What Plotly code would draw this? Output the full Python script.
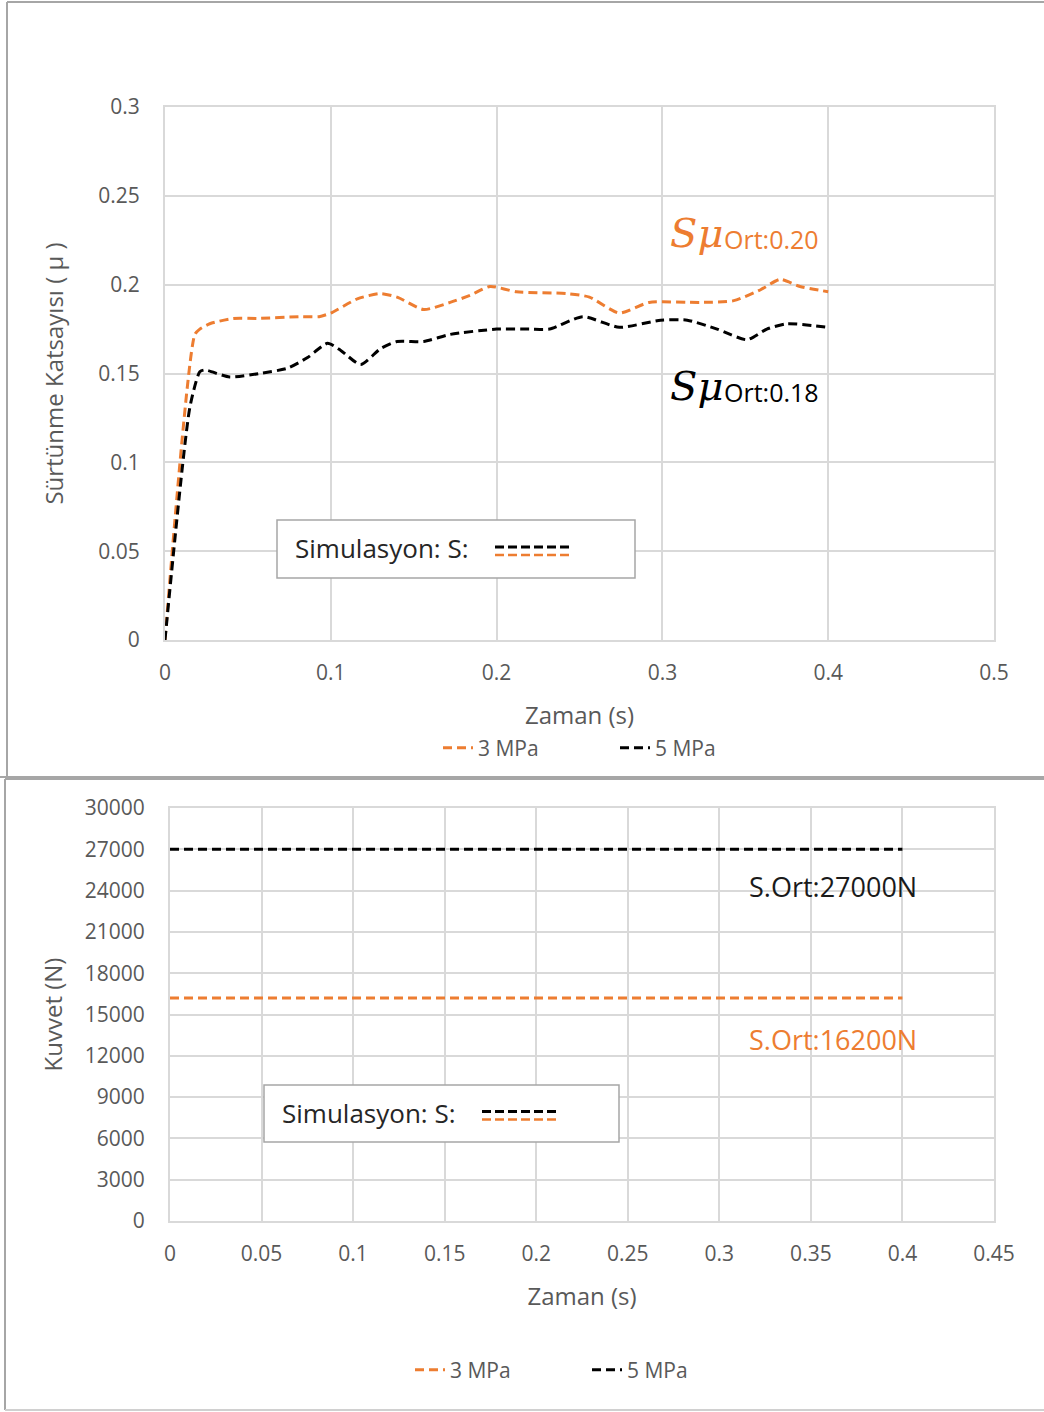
import plotly.graph_objects as go

W, H = 1044, 1412

# Friction coefficient vs time (simulation)
t_3mpa = [0, 0.018, 0.021, 0.027, 0.041, 0.057, 0.081, 0.093, 0.100, 0.116, 0.130, 0.140,
          0.156, 0.172, 0.184, 0.196, 0.212, 0.242, 0.256, 0.274, 0.292, 0.323, 0.343,
          0.359, 0.371, 0.383, 0.400]
mu_3mpa = [0, 0.172, 0.175, 0.178, 0.181, 0.181, 0.182, 0.182, 0.184, 0.192, 0.195, 0.193,
           0.186, 0.190, 0.194, 0.199, 0.196, 0.195, 0.193, 0.184, 0.190, 0.190, 0.191,
           0.197, 0.203, 0.199, 0.196]
t_5mpa = [0, 0.015, 0.021, 0.024, 0.039, 0.057, 0.074, 0.086, 0.098, 0.106, 0.118, 0.130,
          0.140, 0.156, 0.172, 0.200, 0.220, 0.232, 0.252, 0.274, 0.299, 0.315, 0.333,
          0.351, 0.363, 0.375, 0.400]
mu_5mpa = [0, 0.131, 0.151, 0.152, 0.148, 0.150, 0.153, 0.159, 0.167, 0.163, 0.155, 0.164,
           0.168, 0.168, 0.172, 0.175, 0.175, 0.175, 0.182, 0.176, 0.180, 0.180, 0.175,
           0.169, 0.175, 0.178, 0.176]

# Normal force vs time (simulation)
t_force = [0, 0.4]
force_3mpa = [16200, 16200]
force_5mpa = [27000, 27000]

series_names = ["3 MPa", "5 MPa"]
mu_avg_labels = ["0.20", "0.18"]
force_avg_labels = ["S.Ort:16200N", "S.Ort:27000N"]

ORANGE = "#ED7D31"
BLACK = "#000000"
GRID = "#D9D9D9"
TICK = "#595959"
FONT = "Open Sans"


def px(x):
    return x / W


def py(y):
    return 1 - y / H


fig = go.Figure()

dash = "9px,5px"
fig.add_trace(go.Scatter(x=t_3mpa, y=mu_3mpa, name=series_names[0], mode="lines",
                         line=dict(color=ORANGE, width=3, dash=dash, shape="spline", smoothing=0.6),
                         xaxis="x", yaxis="y", legend="legend"))
fig.add_trace(go.Scatter(x=t_5mpa, y=mu_5mpa, name=series_names[1], mode="lines",
                         line=dict(color=BLACK, width=3, dash=dash, shape="spline", smoothing=0.6),
                         xaxis="x", yaxis="y", legend="legend"))
fig.add_trace(go.Scatter(x=t_force, y=force_3mpa, name=series_names[0], mode="lines",
                         line=dict(color=ORANGE, width=3, dash=dash),
                         xaxis="x2", yaxis="y2", legend="legend2"))
fig.add_trace(go.Scatter(x=t_force, y=force_5mpa, name=series_names[1], mode="lines",
                         line=dict(color=BLACK, width=3, dash=dash),
                         xaxis="x2", yaxis="y2", legend="legend2"))

axis_common = dict(showgrid=True, gridcolor=GRID, gridwidth=2, zeroline=False,
                   showline=True, linecolor=GRID, linewidth=2, mirror=True,
                   automargin=False, ticks="",
                   tickfont=dict(family=FONT, size=21, color=TICK),
                   title_font=dict(family=FONT, size=24, color=TICK))

legend_common = dict(orientation="h", xanchor="left", yanchor="middle",
                     entrywidth=132, entrywidthmode="pixels",
                     font=dict(family=FONT, size=21, color=TICK), bgcolor="rgba(0,0,0,0)")

fig.update_layout(
    width=W, height=H,
    margin=dict(l=0, r=0, t=0, b=0, autoexpand=False),
    paper_bgcolor="white", plot_bgcolor="white",
    xaxis=dict(domain=[px(165), px(994)], anchor="y", range=[0, 0.5], dtick=0.1,
               ticklabelstandoff=13, title=dict(text="Zaman (s)", standoff=22), **axis_common),
    yaxis=dict(domain=[py(640), py(107)], anchor="x", range=[0, 0.3], dtick=0.05,
               ticklabelstandoff=19, title=dict(text="Sürtünme Katsayısı ( μ )", standoff=28),
               **axis_common),
    xaxis2=dict(domain=[px(170), px(994)], anchor="y2", range=[0, 0.45], dtick=0.05,
                ticklabelstandoff=13, title=dict(text="Zaman (s)", standoff=22), **axis_common),
    yaxis2=dict(domain=[py(1221), py(808)], anchor="x2", range=[0, 30000], dtick=3000,
                tickformat="d", ticklabelstandoff=19, title=dict(text="Kuvvet (N)", standoff=15),
                **axis_common),
    legend=dict(legend_common, x=px(438), y=py(748)),
    legend2=dict(legend_common, x=px(410), y=py(1370)),
    showlegend=True,
)

shapes = []
# chart frames
frame = dict(type="line", xref="paper", yref="paper", line=dict(color="#A6A6A6", width=2))
shapes.append(dict(frame, x0=px(7), x1=px(7), y0=py(2), y1=py(777)))
shapes.append(dict(frame, x0=px(7), x1=1, y0=py(2), y1=py(2)))
shapes.append(dict(frame, x0=px(0), x1=1, y0=py(777), y1=py(777)))
shapes.append(dict(frame, x0=px(5), x1=px(5), y0=py(779), y1=py(1410)))
shapes.append(dict(frame, x0=px(5), x1=1, y0=py(779), y1=py(779)))
shapes.append(dict(frame, x0=px(5), x1=1, y0=py(1410), y1=py(1410), line=dict(color="#D0D0D0", width=2)))

annotations = []


def sim_box(x0, y0, x1, y1):
    shapes.append(dict(type="rect", xref="paper", yref="paper", x0=px(x0), x1=px(x1),
                       y0=py(y1), y1=py(y0), line=dict(color="#A6A6A6", width=1.5),
                       fillcolor="white", layer="above"))
    ym = (y0 + y1) / 2
    annotations.append(dict(xref="paper", yref="paper", x=px(x0 + 16), y=py(ym - 1),
                            xanchor="left", yanchor="middle", showarrow=False,
                            text="Simulasyon: S:", font=dict(family=FONT, size=26, color="#262626")))
    kx = x0 + 218
    shapes.append(dict(type="line", xref="paper", yref="paper", x0=px(kx), x1=px(kx + 76),
                       y0=py(ym - 2), y1=py(ym - 2), layer="above",
                       line=dict(color=BLACK, width=3, dash="9px,4px")))
    shapes.append(dict(type="line", xref="paper", yref="paper", x0=px(kx), x1=px(kx + 74),
                       y0=py(ym + 6), y1=py(ym + 6), layer="above",
                       line=dict(color=ORANGE, width=2.5, dash="9px,4px")))


sim_box(277, 520, 635, 578)
sim_box(264, 1085, 619, 1142)

# average friction coefficient labels
for (xx, yy, col, val) in [(668, 235, ORANGE, mu_avg_labels[0]), (668, 388, BLACK, mu_avg_labels[1])]:
    annotations.append(dict(xref="paper", yref="paper", x=px(xx), y=py(yy - 2), xanchor="left",
                            yanchor="middle", showarrow=False, text="<i>Sμ</i>",
                            font=dict(family="DejaVu Serif", size=40, color=col)))
    annotations.append(dict(xref="paper", yref="paper", x=px(722), y=py(yy + 4), xanchor="left",
                            yanchor="middle", showarrow=False, text="Ort:" + val,
                            font=dict(family=FONT, size=25, color=col)))

# average force labels
annotations.append(dict(xref="paper", yref="paper", x=px(747), y=py(887), xanchor="left",
                        yanchor="middle", showarrow=False, text=force_avg_labels[1],
                        font=dict(family=FONT, size=27, color="#1a1a1a")))
annotations.append(dict(xref="paper", yref="paper", x=px(747), y=py(1039), xanchor="left",
                        yanchor="middle", showarrow=False, text=force_avg_labels[0],
                        font=dict(family=FONT, size=27, color=ORANGE)))

fig.update_layout(shapes=shapes, annotations=annotations)

fig.write_html("out.html")
